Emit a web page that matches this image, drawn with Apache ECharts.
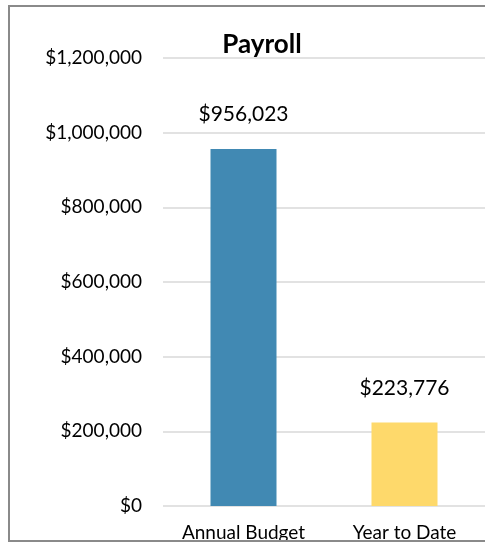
<!DOCTYPE html>
<html>
<head>
<meta charset="utf-8">
<script src="https://cdn.jsdelivr.net/npm/echarts@6/dist/echarts.min.js"></script>
<style>
  html, body { margin: 0; padding: 0; background: #fff; }
  #chart { width: 485px; height: 543px; }
</style>
</head>
<body>
<div id="chart"></div>
<script>
// chart data
const categories = ['Annual Budget', 'Year to Date'];
const amounts = [956023, 223776];
const barColors = ['#4189b3', '#fed96b'];
const yTicks = [0, 200000, 400000, 600000, 800000, 1000000, 1200000];

function money(v) {
    return '$' + Math.round(v).toString().replace(/\B(?=(\d{3})+(?!\d))/g, ',');
}

let el = document.getElementById('chart');
let myChart = echarts.init(el);

const font = 'Lato, "Open Sans", sans-serif';

myChart.setOption({
    animation: false,
    title: {
        text: 'Payroll',
        left: 257,
        top: 27,
        textAlign: 'center',
        textStyle: { fontFamily: font, fontSize: 26, fontWeight: 'bold', color: '#000' }
    },
    grid: { left: 163, width: 325, top: 58, height: 448, containLabel: false },
    xAxis: {
        type: 'category',
        data: categories,
        axisLine: { show: false },
        axisTick: { show: false },
        axisLabel: { fontFamily: font, fontSize: 19, color: '#000', margin: 17 }
    },
    yAxis: {
        type: 'value',
        min: yTicks[0],
        max: yTicks[yTicks.length - 1],
        interval: 200000,
        axisLine: { show: false },
        axisTick: { show: false },
        splitLine: { lineStyle: { color: '#d9d9d9', width: 1.5 } },
        axisLabel: { fontFamily: font, fontSize: 19, color: '#000', margin: 21, formatter: money }
    },
    series: [{
        type: 'bar',
        barWidth: 66,
        data: amounts.map((v, i) => ({ value: v, itemStyle: { color: barColors[i] } })),
        label: {
            show: true,
            position: 'top',
            distance: 24,
            fontFamily: font,
            fontSize: 21,
            color: '#000',
            formatter: (p) => money(p.value)
        }
    }],
    graphic: [{
        type: 'rect',
        shape: { x: 9, y: 6, width: 490, height: 535 },
        style: { fill: 'none', stroke: '#8a8a8a', lineWidth: 2 },
        z: 100
    }]
});
</script>
</body>
</html>
